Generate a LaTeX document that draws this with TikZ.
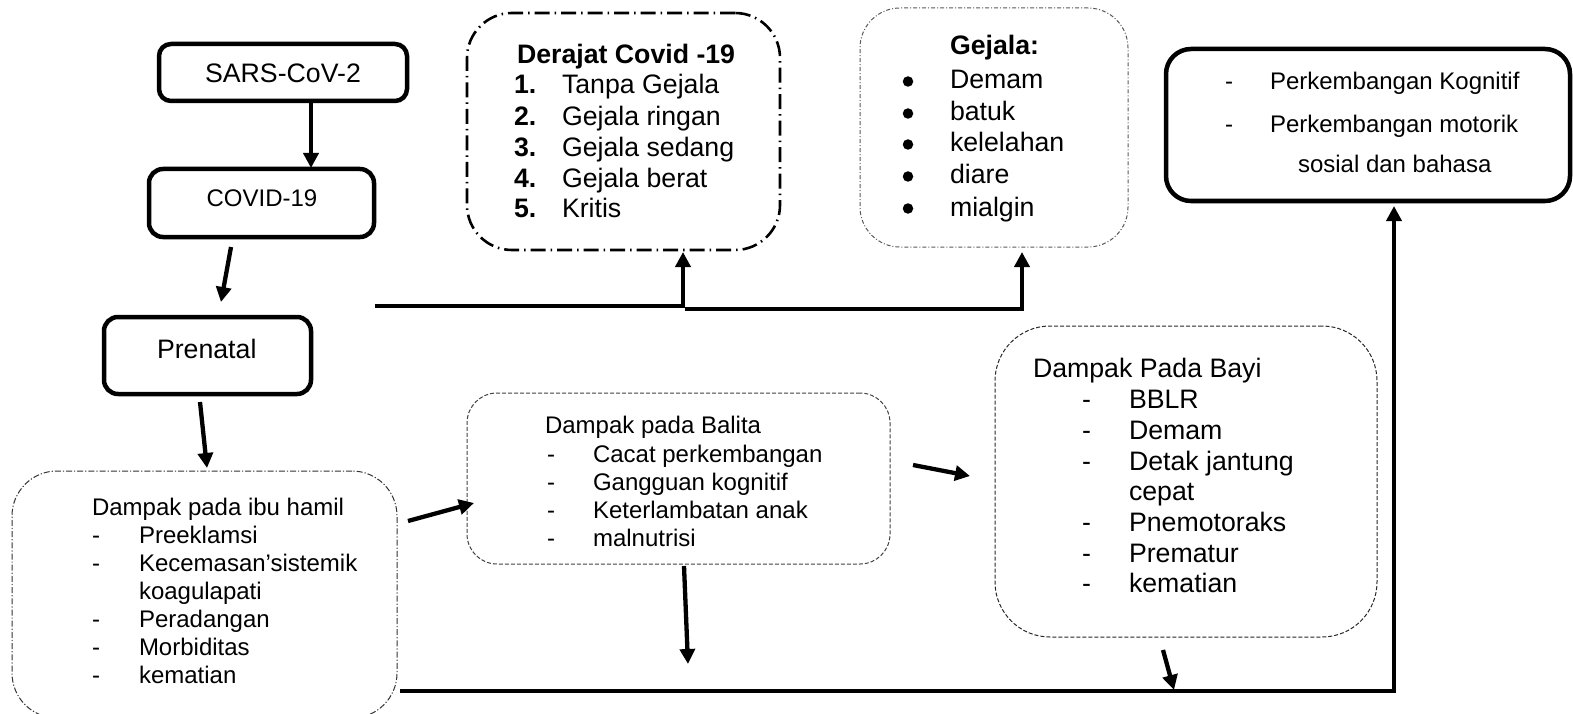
\documentclass[tikz,border=0pt]{standalone}
\usepackage{fontspec}
\setmainfont{Liberation Sans}
\usetikzlibrary{arrows.meta}
\newcommand\myA{\fontsize{26.7pt}{31pt}\selectfont}
\newcommand\myB{\fontsize{24pt}{28pt}\selectfont}
\tikzset{
  solidbox/.style={draw, line width=4.5pt, inner sep=0pt, outer sep=0pt},
  derbox/.style={draw, line width=2.6pt, rounded corners=45pt, dash pattern=on 15pt off 5pt on 1.5pt off 5pt, inner sep=0pt},
  gejbox/.style={draw=black!65, line width=1pt, rounded corners=40pt, dash pattern=on 4pt off 2pt on 1pt off 2pt, inner sep=0pt},
  ibubox/.style={draw=black!80, line width=1pt, rounded corners=45pt, dash pattern=on 6pt off 2pt on 1.2pt off 2pt, inner sep=0pt},
  balbox/.style={draw=black!75, line width=1pt, rounded corners=30pt, dash pattern=on 4pt off 2pt, inner sep=0pt},
  baybox/.style={draw=black!85, line width=1pt, rounded corners=55pt, dash pattern=on 4pt off 2pt, inner sep=0pt},
  bul/.style={circle, fill, minimum size=10.5pt, inner sep=0pt},
  txt/.style={anchor=base west, inner sep=0pt, outer sep=0pt},
  ctxt/.style={anchor=base, inner sep=0pt, outer sep=0pt},
  arr/.style={line width=4.3pt, -{Triangle[length=15pt,width=15pt]}},
}
\begin{document}
\begin{tikzpicture}[x=1pt,y=-1pt]
\useasboundingbox (0,0) rectangle (1573,714);
% ---- boxes
\node[solidbox, rounded corners=12pt, minimum width=248pt, minimum height=57pt] (sars) at (283,72.5) {};
\node[solidbox, rounded corners=14pt, minimum width=225pt, minimum height=68pt] (covid) at (261.5,203) {};
\node[solidbox, rounded corners=14pt, minimum width=207pt, minimum height=77pt] (prenatal) at (207.5,355.5) {};
\node[solidbox, rounded corners=25pt, minimum width=404pt, minimum height=152pt] (perk) at (1368,125) {};
\node[derbox, minimum width=313pt, minimum height=237pt] (derajat) at (623.5,131.5) {};
\node[gejbox, minimum width=268pt, minimum height=239pt] (gejala) at (994,127.5) {};
\node[balbox, minimum width=423pt, minimum height=171pt] (balita) at (678.5,478.5) {};
\node[baybox, minimum width=382pt, minimum height=311pt] (bayi) at (1186,481.5) {};
\node[ibubox, minimum width=385pt, minimum height=247pt] (ibu) at (204.5,594.5) {};
% ---- single texts
\node[ctxt] (tsars) at (283,83) {\myA SARS-CoV-2};
\node[ctxt] (tcovid) at (262,207) {\myB COVID-19};
\node[txt] (tpren) at (157,358) {\myA Prenatal};
% ---- Derajat
\node[txt] (dt) at (517,64) {\myA\bfseries Derajat Covid -19};
\foreach \n/\t/\y in {1/Tanpa Gejala/94, 2/Gejala ringan/126, 3/Gejala sedang/157, 4/Gejala berat/187, 5/Kritis/218}{
  \node[txt] (dn\n) at (514,\y) {\myA\bfseries \n.};
  \node[txt] (di\n) at (562,\y) {\myA \t};
}
% ---- Gejala
\node[txt] (gt) at (950,55) {\myA\bfseries Gejala:};
\foreach \i/\t/\y in {1/Demam/89, 2/batuk/121, 3/kelelahan/152, 4/diare/184, 5/mialgin/216}{
  \node[bul] (gb\i) at (908,\y-7.5) {};
  \node[txt] (gi\i) at (950,\y) {\myA \t};
}
% ---- Perkembangan
\node[txt] (pd1) at (1225,90) {\myB -};
\node[txt] (pi1) at (1270,90) {\myB Perkembangan Kognitif};
\node[txt] (pd2) at (1225,133) {\myB -};
\node[txt] (pi2) at (1270,133) {\myB Perkembangan motorik};
\node[txt] (pi3) at (1298,173) {\myB sosial dan bahasa};
% ---- Balita
\node[txt] (bt) at (545,433) {\myB Dampak pada Balita};
\foreach \i/\t/\y in {1/Cacat perkembangan/462, 2/Gangguan kognitif/490, 3/Keterlambatan anak/518, 4/malnutrisi/546}{
  \node[txt] (bd\i) at (547,\y) {\myB -};
  \node[txt] (bi\i) at (593,\y) {\myB \t};
}
% ---- Bayi
\node[txt] (yt) at (1033,377) {\myA Dampak Pada Bayi};
\foreach \i/\t/\y in {1/BBLR/408, 2/Demam/439, 3/Detak jantung/470, 5/Pnemotoraks/531, 6/Prematur/562, 7/kematian/592}{
  \node[txt] (yd\i) at (1082,\y) {\myA -};
  \node[txt] (yi\i) at (1129,\y) {\myA \t};
}
\node[txt] (yi4) at (1129,500) {\myA cepat};
% ---- ibu
\node[txt] (it) at (92,515) {\myB Dampak pada ibu hamil};
\foreach \i/\t/\y in {1/Preeklamsi/543, 2/Kecemasan’sistemik/571, 4/Peradangan/627, 5/Morbiditas/655, 6/kematian/683}{
  \node[txt] (id\i) at (92,\y) {\myB -};
  \node[txt] (ii\i) at (139,\y) {\myB \t};
}
\node[txt] (ii3) at (139,599) {\myB koagulapati};
% ---- connector coordinates
\coordinate (a1s) at (311,101);  \coordinate (a1e) at (311,168);
\coordinate (a2s) at (231,247);  \coordinate (a2e) at (221,302);
\coordinate (a3s) at (200,402);  \coordinate (a3e) at (207,468);
\coordinate (a4s) at (408,521);  \coordinate (a4e) at (474,503);
\coordinate (a5s) at (913,465);  \coordinate (a5e) at (970,476);
\coordinate (a6s) at (684,566);  \coordinate (a6e) at (688,664);
\coordinate (a7s) at (1163,650); \coordinate (a7e) at (1174,690);
\coordinate (t1s) at (375,306);  \coordinate (t1c) at (683,306); \coordinate (t1e) at (683,252);
\coordinate (t2s) at (685,309);  \coordinate (t2c) at (1022,309); \coordinate (t2e) at (1022,252);
\coordinate (b1s) at (400,691);  \coordinate (b1c) at (1394,691); \coordinate (b1e) at (1394,206);
% ---- connectors
\draw[arr] (a1s) -- (a1e);
\draw[arr] (a2s) -- (a2e);
\draw[arr] (a3s) -- (a3e);
\draw[arr] (a4s) -- (a4e);
\draw[arr] (a5s) -- (a5e);
\draw[arr] (a6s) -- (a6e);
\draw[arr] (a7s) -- (a7e);
\draw[arr] (t1s) -- (t1c) -- (t1e);
\draw[arr] (t2s) -- (t2c) -- (t2e);
\draw[arr] (b1s) -- (b1c) -- (b1e);
\end{tikzpicture}
\end{document}
